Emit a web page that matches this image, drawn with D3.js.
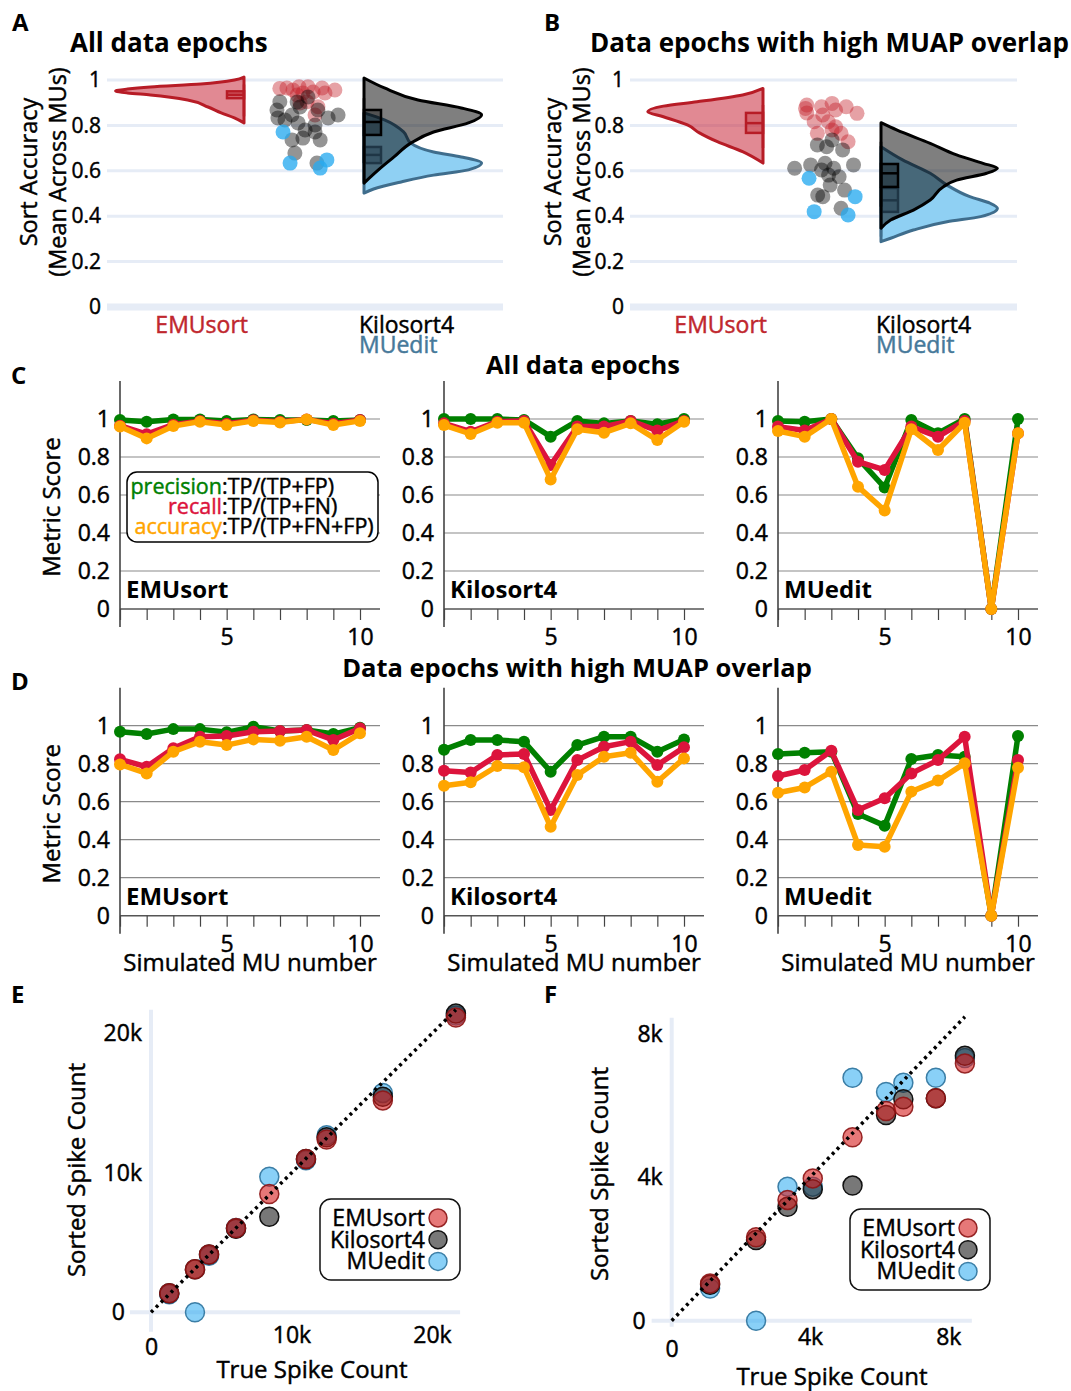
<!DOCTYPE html>
<html lang="en">
<head>
<meta charset="UTF-8">
<title>Sort accuracy of EMUsort, Kilosort4 and MUedit</title>
<script src="https://cdn.jsdelivr.net/npm/d3@7"></script>
<style>
  body { margin: 0; background: #fff; }
  text.reg, .axis-txt text { stroke: currentColor; stroke-width: 0.45px; }
</style>
</head>
<body>
<script>
// ---------------- data ----------------
const methods = ["EMUsort", "Kilosort4", "MUedit"];
const accTicks = [0, 0.2, 0.4, 0.6, 0.8, 1];
const metricTicks = [0, 0.2, 0.4, 0.6, 0.8, 1];
const muNumber = [1, 2, 3, 4, 5, 6, 7, 8, 9, 10];
const muLabelTicks = [5, 10];

// half violins, [sort accuracy, relative density]
const violinAllEMUsort = [[1.013,0],[1.0,0.08],[0.982,0.36],[0.969,0.78],[0.96,0.97],[0.952,1.07],[0.943,0.97],[0.934,0.78],[0.912,0.47],[0.881,0.3],[0.855,0.19],[0.833,0.08],[0.811,0]];
const violinAllKilosort4 = [[1.009,0],[0.965,0.17],[0.912,0.45],[0.877,0.81],[0.846,0.98],[0.811,0.87],[0.771,0.58],[0.722,0.39],[0.661,0.25],[0.604,0.12],[0.546,0]];
const violinAllMUedit = [[0.855,0],[0.824,0.17],[0.771,0.33],[0.722,0.39],[0.683,0.58],[0.661,0.81],[0.634,0.98],[0.604,0.87],[0.581,0.58],[0.551,0.31],[0.52,0.08],[0.502,0]];
const violinHighEMUsort = [[0.963,0],[0.934,0.17],[0.904,0.55],[0.885,0.83],[0.86,0.96],[0.838,0.83],[0.802,0.63],[0.767,0.53],[0.728,0.38],[0.684,0.17],[0.634,0]];
const violinHighKilosort4 = [[0.812,0],[0.78,0.13],[0.721,0.41],[0.67,0.63],[0.633,0.85],[0.611,0.97],[0.589,0.88],[0.559,0.63],[0.53,0.52],[0.471,0.41],[0.427,0.27],[0.383,0.08],[0.347,0]];
const violinHighMUedit = [[0.706,0],[0.648,0.18],[0.589,0.41],[0.537,0.55],[0.486,0.74],[0.457,0.91],[0.435,0.97],[0.398,0.83],[0.376,0.55],[0.339,0.27],[0.303,0.08],[0.288,0]];

// box stats: lower whisker, q1, median, q3, upper whisker
const boxAllEMUsort = [0.84, 0.92, 0.935, 0.95, 0.98];
const boxAllKilosort4 = [0.634, 0.758, 0.815, 0.868, 0.92];
const boxAllMUedit = [0.55, 0.634, 0.67, 0.705, 0.78];
const boxHighEMUsort = [0.70, 0.767, 0.81, 0.855, 0.89];
const boxHighKilosort4 = [0.442, 0.529, 0.589, 0.63, 0.728];
const boxHighMUedit = [0.31, 0.419, 0.47, 0.524, 0.68];

// strip points (one per data epoch) and their jitter (-1..1)
const stripAllEMUsort = [0.963,0.956,0.97,0.97,0.965,0.956,0.943,0.947,0.934,0.904,0.882,0.943,0.965,0.899,0.846];
const jitterAllEMUsort = [-0.88,-0.47,-0.28,0,0.44,0.84,-0.16,0.16,-0.34,-0.03,0.31,0.53,-0.66,-0.25,0.22];
const stripAllKilosort4 = [0.904,0.868,0.833,0.824,0.846,0.811,0.78,0.802,0.771,0.736,0.744,0.736,0.678,0.634,0.833,0.846,0.881,0.925,0.903,0.868];
const jitterAllKilosort4 = [-0.88,-0.97,-0.94,-0.72,-0.5,-0.31,-0.09,0.22,0.22,-0.5,-0.16,0.38,-0.41,0.28,0.63,0.94,-0.25,0,-0.34,0.31];
const stripAllMUedit = [0.771,0.634,0.612,0.648];
const jitterAllMUedit = [-0.78,-0.56,0.38,0.59];
const stripHighEMUsort = [0.875,0.855,0.882,0.897,0.868,0.882,0.853,0.846,0.816,0.816,0.794,0.765,0.765,0.728,0.78,0.89];
const jitterHighEMUsort = [-0.64,-0.6,-0.14,0.19,0.3,0.63,0.97,-0.1,-0.37,0.07,0.3,-0.27,0.47,0.69,0.19,-0.6];
const stripHighKilosort4 = [0.714,0.736,0.692,0.706,0.611,0.626,0.633,0.611,0.626,0.581,0.574,0.537,0.515,0.493,0.486,0.435,0.604];
const jitterHighKilosort4 = [-0.27,0.19,0.52,0.02,-0.98,-0.48,-0.03,0.24,0.86,0.08,0.41,0.13,0.58,-0.26,-0.1,0.47,-0.14];
const stripHighMUedit = [0.567,0.486,0.42,0.405];
const jitterHighMUedit = [-0.53,0.91,-0.37,0.69];

// per-MU metrics, rows in the order of `methods`
const precisionAll = [
  [0.995,0.985,0.997,0.997,0.99,0.997,0.995,0.995,0.99,0.995],
  [1.0,1.0,1.0,0.995,0.907,0.99,0.977,0.99,0.972,1.0],
  [0.99,0.986,1.0,0.793,0.639,0.995,0.925,1.0,0,1.0]];
const recallAll = [
  [0.965,0.92,0.97,0.99,0.975,0.993,0.985,0.998,0.975,0.995],
  [0.977,0.933,0.986,0.99,0.758,0.96,0.96,0.99,0.939,0.99],
  [0.96,0.939,1.0,0.775,0.732,0.96,0.907,0.99,0,0.925]];
const accuracyAll = [
  [0.96,0.898,0.963,0.986,0.968,0.99,0.981,0.998,0.968,0.99],
  [0.968,0.921,0.98,0.98,0.682,0.946,0.928,0.977,0.889,0.986],
  [0.937,0.907,1.0,0.644,0.518,0.946,0.837,0.98,0,0.925]];
const precisionHigh = [
  [0.968,0.956,0.982,0.982,0.965,0.995,0.972,0.977,0.956,0.989],
  [0.874,0.925,0.925,0.916,0.758,0.898,0.942,0.942,0.863,0.928],
  [0.851,0.858,0.863,0.535,0.474,0.825,0.846,0.837,0,0.946]];
const recallHigh = [
  [0.823,0.784,0.881,0.942,0.946,0.968,0.972,0.977,0.925,0.986],
  [0.763,0.754,0.846,0.851,0.556,0.819,0.889,0.916,0.793,0.886],
  [0.735,0.767,0.868,0.556,0.618,0.749,0.819,0.942,0,0.819]];
const accuracyHigh = [
  [0.796,0.749,0.863,0.916,0.898,0.928,0.921,0.942,0.872,0.96],
  [0.684,0.702,0.788,0.781,0.468,0.74,0.837,0.858,0.705,0.828],
  [0.647,0.675,0.758,0.372,0.363,0.653,0.711,0.802,0,0.779]];

// spike counts per MU
const trueCountE = [1300, 3130, 4130, 6050, 8420, 11030, 12500, 16500, 21700];
const sortedE = [
  [1360, 3080, 4150, 6050, 8480, 11000, 12400, 15200, 21150],
  [1360, 3080, 4150, 6000, 6850, 11000, 12550, 15460, 21430],
  [1300, 0, 4050, 6050, 9720, 10900, 12700, 15740, 21300]];
const ticksE = [0, 10000, 20000];
const trueCountF = [1110, 2440, 3350, 4080, 5230, 6200, 6700, 7640, 8480];
const sortedF = [
  [1040, 2330, 3370, 3970, 5120, 5850, 5970, 6210, 7180],
  [1000, 2250, 3180, 3670, 3770, 5740, 6180, 6210, 7390],
  [900, 0, 3740, 3740, 6780, 6380, 6640, 6780, 7330]];
const ticksF = [0, 4000, 8000];

// ---------------- drawing ----------------
const FONT = "'Open Sans', sans-serif";
const svg = d3.select("body").append("svg")
  .attr("width", 1071).attr("height", 1391)
  .attr("font-family", FONT);

const emuRed = "#c0272d", mueBlue = "#46799a";

function txt(x, y, s, size, opts = {}) {
  const col = opts.fill || "#000";
  const t = svg.append("text").attr("x", x).attr("y", y)
    .attr("font-size", size).text(s)
    .attr("font-weight", opts.bold ? 700 : 400)
    .attr("class", opts.bold ? null : "reg")
    .attr("text-anchor", opts.anchor || "start")
    .attr("fill", col).style("color", col);
  if (opts.rotate) t.attr("transform", `rotate(-90,${x},${y})`);
  return t;
}

function styleAxis(a, size) {
  a.attr("font-family", FONT).attr("font-size", size).attr("class", "axis-txt");
  a.select(".domain").remove();
  a.selectAll("text").attr("fill", "#000").style("color", "#000");
  return a;
}

// panel letters
txt(12, 31, "A", 24, {bold: true});
txt(544, 31, "B", 24, {bold: true});
txt(11, 384, "C", 24, {bold: true});
txt(11, 690, "D", 24, {bold: true});
txt(11, 1003, "E", 24, {bold: true});
txt(544, 1003, "F", 24, {bold: true});

// ---- A / B: half violins + strip ----
function accuracyPanel(p) {
  const g = svg.append("g");
  const y = d3.scaleLinear().domain([0, 1]).range([307, 80]);
  const x = d3.scaleLinear().domain([-1, 1]).range([p.base0, p.base1]);
  const w = d3.scaleLinear().domain([0, 1]).range([0, 120]);

  g.append("g").selectAll("line").data(accTicks).join("line")
    .attr("x1", p.grid0).attr("x2", p.grid1)
    .attr("y1", d => y(d)).attr("y2", d => y(d))
    .attr("stroke", "#e6ecf6").attr("stroke-width", d => d === 0 ? 7 : 3);

  styleAxis(g.append("g").attr("transform", `translate(${p.grid0},0)`)
    .call(d3.axisLeft(y).tickValues(accTicks).tickSize(0).tickPadding(6).tickFormat(d3.format("~g"))), 21);

  const violin = (dens, side, fill, stroke, opacity) => {
    const base = side < 0 ? x(-1) : x(1);
    const area = d3.area().curve(d3.curveMonotoneY)
      .y(d => y(d[0])).x0(base).x1(d => base + side * w(d[1]));
    g.append("path").datum(dens).attr("d", area)
      .attr("fill", fill).attr("fill-opacity", opacity)
      .attr("stroke", stroke).attr("stroke-width", 3).attr("stroke-linejoin", "round");
  };
  const box = (st, side, stroke, fill) => {
    const base = side < 0 ? x(-1) : x(1);
    const bw = 17;
    const bx = side < 0 ? base - bw : base;
    g.append("line").attr("x1", base).attr("x2", base)
      .attr("y1", y(st[0])).attr("y2", y(st[4]))
      .attr("stroke", stroke).attr("stroke-width", 2.5);
    g.append("rect").attr("x", bx).attr("width", bw)
      .attr("y", y(st[3])).attr("height", y(st[1]) - y(st[3]))
      .attr("fill", fill).attr("stroke", stroke).attr("stroke-width", 2.5);
    g.append("line").attr("x1", bx).attr("x2", bx + bw)
      .attr("y1", y(st[2])).attr("y2", y(st[2]))
      .attr("stroke", stroke).attr("stroke-width", 2.5);
  };

  violin(p.vE, -1, "#c8283a", "#b71c26", 0.55);
  box(p.bE, -1, "#b71c26", "rgba(190,40,50,0.35)");
  violin(p.vM, 1, "#8fd0f3", "#3f6d8c", 1);
  box(p.bM, 1, "#3f6d8c", "rgba(60,110,140,0.4)");
  violin(p.vK, 1, "#000", "#000", 0.5);
  box(p.bK, 1, "#000", "rgba(0,0,0,0.35)");

  // strip of epochs
  const jx = d3.scaleLinear().domain([-1, 1]).range([x(0) + 4 - 32, x(0) + 4 + 32]);
  const strip = (vals, jit, fill) => {
    g.append("g").selectAll("circle").data(vals).join("circle")
      .attr("cx", (d, i) => jx(jit[i])).attr("cy", d => y(d)).attr("r", 7.5)
      .attr("fill", fill);
  };
  strip(p.sE, p.jE, "rgba(195,30,40,0.42)");
  strip(p.sK, p.jK, "rgba(0,0,0,0.42)");
  strip(p.sM, p.jM, "rgba(40,170,240,0.78)");

  // category labels
  txt(x(-1) + 4, 333, "EMUsort", 23, {anchor: "end", fill: emuRed});
  txt(x(1) - 5, 333, "Kilosort4", 23);
  txt(x(1) - 5, 353, "MUedit", 23, {fill: mueBlue});

  // titles
  txt(p.titleX, 52, p.title, 26, {bold: true});
  txt(p.ylabX, 172, "Sort Accuracy", 23.5, {anchor: "middle", rotate: true}).attr("dy", "0.35em");
  txt(p.ylabX + 29, 172, "(Mean Across MUs)", 23.5, {anchor: "middle", rotate: true}).attr("dy", "0.35em");
}

accuracyPanel({
  base0: 244, base1: 364, grid0: 107, grid1: 503,
  title: "All data epochs", titleX: 70, ylabX: 29,
  vE: violinAllEMUsort, vK: violinAllKilosort4, vM: violinAllMUedit,
  bE: boxAllEMUsort, bK: boxAllKilosort4, bM: boxAllMUedit,
  sE: stripAllEMUsort, jE: jitterAllEMUsort,
  sK: stripAllKilosort4, jK: jitterAllKilosort4,
  sM: stripAllMUedit, jM: jitterAllMUedit
});
accuracyPanel({
  base0: 763, base1: 881, grid0: 630, grid1: 1017,
  title: "Data epochs with high MUAP overlap", titleX: 590, ylabX: 553,
  vE: violinHighEMUsort, vK: violinHighKilosort4, vM: violinHighMUedit,
  bE: boxHighEMUsort, bK: boxHighKilosort4, bM: boxHighMUedit,
  sE: stripHighEMUsort, jE: jitterHighEMUsort,
  sK: stripHighKilosort4, jK: jitterHighKilosort4,
  sM: stripHighMUedit, jM: jitterHighMUedit
});

// ---- C / D: metric lines per MU ----
const subLefts = [120, 444, 778];
const metricColors = ["#008000", "#dc143c", "#ffa500"];

function metricRow(p) {
  const y = d3.scaleLinear().domain([0, 1]).range([p.zeroY, p.zeroY - 190]);
  txt(p.titleX, p.titleY, p.title, 25.5, {bold: true, anchor: "middle"});
  txt(52, p.zeroY - 102, "Metric Score", 24, {anchor: "middle", rotate: true}).attr("dy", "0.35em");

  methods.forEach((m, i) => {
    const left = subLefts[i];
    const x = d3.scaleLinear().domain([1, 10.75]).range([left, left + 260]);
    const g = svg.append("g");

    g.append("g").selectAll("line").data(metricTicks).join("line")
      .attr("x1", left).attr("x2", left + 260)
      .attr("y1", d => y(d)).attr("y2", d => y(d))
      .attr("stroke", d => d === 0 ? "#555" : "#8a8a8a").attr("stroke-width", d => d === 0 ? 1.5 : 1.2);
    g.append("line").attr("x1", left).attr("x2", left)
      .attr("y1", y(1.2)).attr("y2", y(0) + 18)
      .attr("stroke", "#444").attr("stroke-width", 1.6);

    const xa = styleAxis(g.append("g").attr("transform", `translate(0,${y(0)})`)
      .call(d3.axisBottom(x).tickValues(muNumber).tickSize(11).tickPadding(9)
        .tickFormat(d => muLabelTicks.includes(d) ? d : "")), 23);
    xa.selectAll("line").attr("stroke", "#444").attr("stroke-width", 1.2);

    styleAxis(g.append("g").attr("transform", `translate(${left},0)`)
      .call(d3.axisLeft(y).tickValues(metricTicks).tickSize(0).tickPadding(10).tickFormat(d3.format("~g"))), 23);

    [p.prec[i], p.rec[i], p.acc[i]].forEach((vals, k) => {
      const pts = muNumber.map((n, j) => [n, vals[j]]);
      g.append("path").datum(pts)
        .attr("d", d3.line().x(d => x(d[0])).y(d => y(d[1])))
        .attr("fill", "none").attr("stroke", metricColors[k])
        .attr("stroke-width", 5.5).attr("stroke-linejoin", "round");
      g.append("g").selectAll("circle").data(pts).join("circle")
        .attr("cx", d => x(d[0])).attr("cy", d => y(d[1])).attr("r", 6)
        .attr("fill", metricColors[k]);
    });

    txt(left + 6, y(0) - 11, m, 24, {bold: true});
    if (p.xlabel) txt(left + 130, p.zeroY + 55, "Simulated MU number", 24, {anchor: "middle"});
  });
}

metricRow({zeroY: 609, title: "All data epochs", titleX: 583, titleY: 374,
  prec: precisionAll, rec: recallAll, acc: accuracyAll, xlabel: false});
metricRow({zeroY: 915.7, title: "Data epochs with high MUAP overlap", titleX: 577, titleY: 677,
  prec: precisionHigh, rec: recallHigh, acc: accuracyHigh, xlabel: true});

// metric legend (panel C, EMUsort)
svg.append("rect").attr("x", 127).attr("y", 472).attr("width", 251).attr("height", 70)
  .attr("rx", 10).attr("fill", "#fff").attr("stroke", "#000").attr("stroke-width", 1.5);
[["precision", ":TP/(TP+FP)"], ["recall", ":TP/(TP+FN)"], ["accuracy", ":TP/(TP+FN+FP)"]]
  .forEach(([name, formula], k) => {
    const yy = 494 + k * 20;
    txt(222, yy, name, 21.5, {anchor: "end", fill: metricColors[k]});
    txt(222, yy, formula, 21.5);
  });

// ---- E / F: sorted vs true spike count ----
const scatterStyle = [
  {fill: "rgba(214,30,30,0.6)", stroke: "rgba(140,20,20,0.9)"},
  {fill: "rgba(30,30,30,0.6)", stroke: "#111"},
  {fill: "rgba(40,170,240,0.55)", stroke: "#3b7ea6"}
];

function countPanel(p) {
  const g = svg.append("g");
  const x = d3.scaleLinear().domain([0, p.ticks[2]]).range([p.x0, p.x1]);
  const y = d3.scaleLinear().domain([0, p.ticks[2]]).range([p.y0, p.y1]);

  g.append("line").attr("x1", x(0)).attr("x2", x(0))
    .attr("y1", y(p.yExt[0])).attr("y2", y(p.yExt[1]))
    .attr("stroke", "#e6ecf6").attr("stroke-width", 4);
  g.append("line").attr("x1", x(p.xExt[0])).attr("x2", x(p.xExt[1]))
    .attr("y1", y(0)).attr("y2", y(0))
    .attr("stroke", "#e6ecf6").attr("stroke-width", 4);

  const fmt = d => d === 0 ? "0" : d / 1000 + "k";
  const xa = styleAxis(g.append("g").attr("transform", `translate(0,${y(0)})`)
    .call(d3.axisBottom(x).tickValues(p.ticks).tickSize(0).tickPadding(p.xPad).tickFormat(fmt)), 23);
  xa.selectAll("text").filter(d => d === 0).attr("y", p.xPad + 12);
  const ya = styleAxis(g.append("g").attr("transform", `translate(${x(0)},0)`)
    .call(d3.axisLeft(y).tickValues(p.ticks).tickSize(0).tickPadding(9).tickFormat(fmt)), 23);
  ya.selectAll("text").filter(d => d === 0).attr("x", -26);

  // MUedit underneath, EMUsort on top
  [2, 1, 0].forEach(k => {
    g.append("g").selectAll("circle").data(p.sorted[k]).join("circle")
      .attr("cx", (d, j) => x(p.trueCount[j])).attr("cy", d => y(d)).attr("r", 9.5)
      .attr("fill", scatterStyle[k].fill).attr("stroke", scatterStyle[k].stroke).attr("stroke-width", 1.5);
  });

  const top = d3.max(p.trueCount);
  g.append("line").attr("x1", x(0)).attr("y1", y(0)).attr("x2", x(top)).attr("y2", y(top))
    .attr("stroke", "#000").attr("stroke-width", 3.5).attr("stroke-dasharray", "3,4");

  txt(p.xlab[0], p.xlab[1], "True Spike Count", 24, {anchor: "middle"});
  txt(p.ylab[0], p.ylab[1], "Sorted Spike Count", 24, {anchor: "middle", rotate: true}).attr("dy", "0.35em");

  const L = p.legend;
  svg.append("rect").attr("x", L.x).attr("y", L.y).attr("width", L.w).attr("height", 81)
    .attr("rx", 11).attr("fill", "#fff").attr("stroke", "#111").attr("stroke-width", 1.5);
  methods.forEach((m, k) => {
    const yy = L.y + 19 + k * 21.7;
    txt(L.x + L.w - 35, yy, m, 23, {anchor: "end"}).attr("dy", "0.35em");
    svg.append("circle").attr("cx", L.x + L.w - 22).attr("cy", yy).attr("r", 9)
      .attr("fill", scatterStyle[k].fill).attr("stroke", scatterStyle[k].stroke).attr("stroke-width", 1.5);
  });
}

countPanel({
  trueCount: trueCountE, sorted: sortedE, ticks: ticksE,
  x0: 151, x1: 432, y0: 1312.3, y1: 1033.5,
  xExt: [-1500, 22000], yExt: [-1400, 21700], xPad: 14,
  xlab: [312, 1378], ylab: [77, 1170],
  legend: {x: 320, y: 1199, w: 140}
});
countPanel({
  trueCount: trueCountF, sorted: sortedF, ticks: ticksF,
  x0: 671.7, x1: 948.3, y0: 1320.7, y1: 1034,
  xExt: [-580, 8680], yExt: [-170, 8450], xPad: 8,
  xlab: [832, 1385], ylab: [600, 1174],
  legend: {x: 850, y: 1209, w: 140}
});
</script>
</body>
</html>
